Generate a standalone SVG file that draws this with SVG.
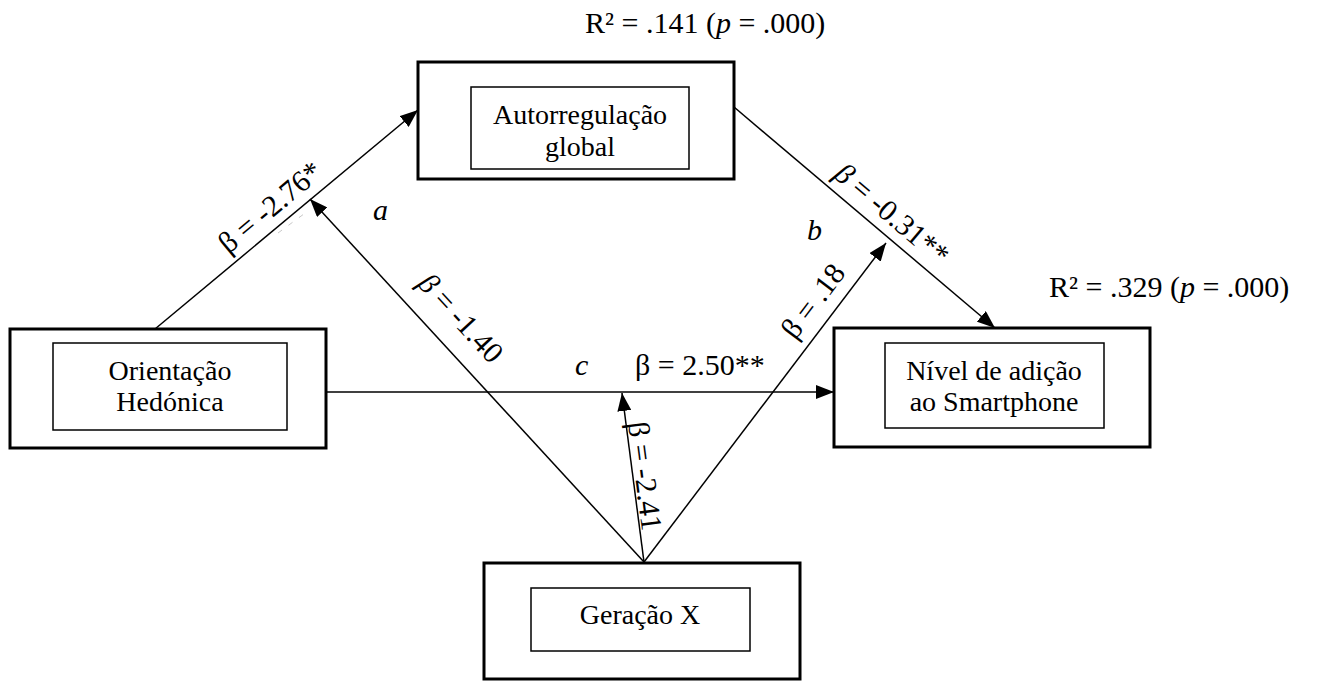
<svg xmlns="http://www.w3.org/2000/svg" width="1319" height="682" viewBox="0 0 1319 682">
<style>
.outer{fill:#fff;stroke:#000;stroke-width:3}
.inner{fill:#fff;stroke:#000;stroke-width:1.5}
.t{font-family:"Liberation Serif","Times New Roman",serif;font-size:28px;fill:#000}
.c{text-anchor:middle}
.lbl{font-family:"Liberation Serif","Times New Roman",serif;font-size:30px;fill:#000}
.conn{stroke:#000;stroke-width:1.5;fill:none}
</style>
<defs>
<marker id="ah" markerUnits="userSpaceOnUse" markerWidth="20" markerHeight="14" refX="18" refY="7" orient="auto">
<path d="M0,0 L18,7 L0,14 z" fill="#000"/>
</marker>
</defs>
<g id="connectors">
<line class="conn" x1="155" y1="329" x2="418" y2="110" marker-end="url(#ah)"/>
<line class="conn" x1="734" y1="107" x2="995" y2="328" marker-end="url(#ah)"/>
<line class="conn" x1="326" y1="392" x2="834" y2="392" marker-end="url(#ah)"/>
<line class="conn" x1="644" y1="562" x2="310" y2="199" marker-end="url(#ah)"/>
<line class="conn" x1="644" y1="562" x2="622" y2="393" marker-end="url(#ah)"/>
<line class="conn" x1="644" y1="562" x2="886" y2="243" marker-end="url(#ah)"/>
<line x1="278" y1="233" x2="308" y2="211" stroke="#c8c8c8" stroke-width="1" stroke-dasharray="5 8"/>
</g>
<g id="node-autorregulacao">
<rect class="outer" x="418" y="62" width="316" height="117"/>
<rect class="inner" x="471" y="87" width="218" height="82"/>
<text class="t c" x="580" y="124">Autorregulação</text>
<text class="t c" x="580" y="156">global</text>
</g>
<g id="node-orientacao">
<rect class="outer" x="10" y="329" width="316" height="119"/>
<rect class="inner" x="53" y="343" width="234" height="87"/>
<text class="t c" x="170" y="380">Orientação</text>
<text class="t c" x="170" y="411">Hedónica</text>
</g>
<g id="node-nivel">
<rect class="outer" x="834" y="328" width="316" height="119"/>
<rect class="inner" x="885" y="343" width="219" height="85"/>
<text class="t c" x="994" y="380">Nível de adição</text>
<text class="t c" x="994" y="411">ao Smartphone</text>
</g>
<g id="node-geracao">
<rect class="outer" x="484" y="563" width="316" height="116"/>
<rect class="inner" x="531" y="588" width="219" height="63"/>
<text class="t c" x="640" y="624">Geração X</text>
</g>
<g id="labels">
<text class="lbl" x="585" y="33">R² = .141 (<tspan font-style="italic">p</tspan> = .000)</text>
<text class="lbl" x="1049" y="297">R² = .329 (<tspan font-style="italic">p</tspan> = .000)</text>
<text class="lbl c" transform="translate(270,207) rotate(-39.8)" x="0" y="10">β = -2.76*</text>
<text class="lbl" x="373" y="220" font-style="italic">a</text>
<text class="lbl c" transform="translate(461,318) rotate(47.4)" x="0" y="10"><tspan font-style="italic">β</tspan> = -1.40</text>
<text class="lbl" x="575" y="375" font-style="italic">c</text>
<text class="lbl" x="635" y="375">β = 2.50**</text>
<text class="lbl c" transform="translate(645,476) rotate(82.6)" x="0" y="10">β = -2.41</text>
<text class="lbl" x="807" y="240" font-style="italic">b</text>
<text class="lbl c" transform="translate(813,301) rotate(-52.8)" x="0" y="10">β = .18</text>
<text class="lbl c" transform="translate(892,214) rotate(40.3)" x="0" y="10"><tspan font-style="italic">β</tspan> = -0.31**</text>
</g>
</svg>
